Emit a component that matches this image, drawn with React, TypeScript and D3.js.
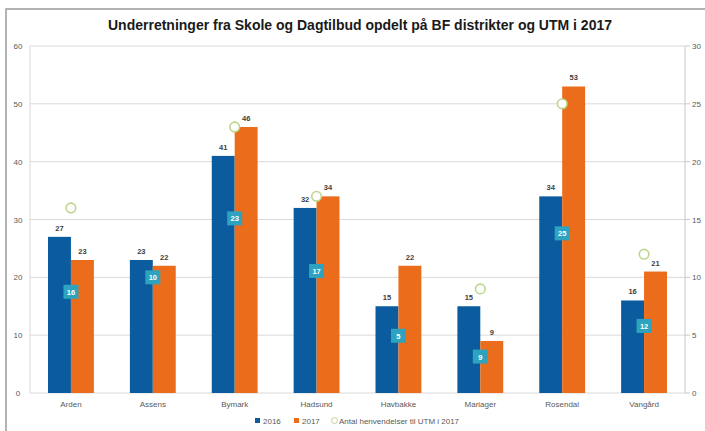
import React from "react";
import * as d3 from "d3";

const categories = ["Arden", "Assens", "Bymark", "Hadsund", "Havbakke", "Mariager", "Rosendal", "Vangård"];
const values2016 = [27, 23, 41, 32, 15, 15, 34, 16];
const values2017 = [23, 22, 46, 34, 22, 9, 53, 21];
const utm2017 = [16, 10, 23, 17, 5, 9, 25, 12];
// vertical position (primary-axis units) of the UTM data labels
const utmLabelPos = [17.5, 20, 30.2, 21.1, 9.9, 6.3, 27.6, 11.6];
const leftTicks = [0, 10, 20, 30, 40, 50, 60];
const rightTicks = [0, 5, 10, 15, 20, 25, 30];
const seriesNames = ["2016", "2017", "Antal henvendelser til UTM i 2017"];

const W = 705;
const H = 431;
const m = { left: 30, right: 20, top: 46, bottom: 38 };
const BLUE = "#0A5C9E";
const ORANGE = "#EB6C1B";
const TEAL = "#2EA3BF";
const GREEN = "#BBD68C";

export default function App() {
  const x0 = d3.scaleBand().domain(categories).range([m.left, W - m.right]).paddingInner(0.44).paddingOuter(0.22);
  const x1 = d3.scaleBand().domain(["2016", "2017"]).range([0, x0.bandwidth()]);
  const y = d3.scaleLinear().domain([0, 60]).range([H - m.bottom, m.top]);
  const y2 = d3.scaleLinear().domain([0, 30]).range([H - m.bottom, m.top]);
  const plotR = W - m.right;
  const plotB = H - m.bottom;
  const font = "Liberation Sans, Arial, sans-serif";
  const center = (c: string) => (x0(c) as number) + x0.bandwidth() / 2;

  return (
    <svg width={W} height={H} style={{ position: "absolute", left: 0, top: 0 }} fontFamily={font}>
      <rect x={0} y={0} width={W} height={H} fill="#fff" />
      <rect x={6} y={9} width={W + 10} height={H + 10} fill="none" stroke="#9a9a9a" strokeWidth={1.5} />
      <text x={360} y={30} textAnchor="middle" fontSize={14} fontWeight="bold" fill="#1a1a1a" textLength={504} lengthAdjust="spacingAndGlyphs">
        Underretninger fra Skole og Dagtilbud opdelt på BF distrikter og UTM i 2017
      </text>
      {leftTicks.map((t) => (
        <g key={"l" + t}>
          <line x1={m.left} x2={plotR} y1={y(t)} y2={y(t)} stroke="#d9d9d9" strokeWidth={1} />
          <text x={18} y={y(t) + 3} textAnchor="middle" fontSize={8} fill="#595959">{t}</text>
        </g>
      ))}
      <line x1={m.left} x2={m.left} y1={m.top} y2={plotB} stroke="#d9d9d9" />
      <line x1={plotR} x2={plotR} y1={m.top} y2={plotB} stroke="#c8c8c8" />
      {rightTicks.map((t) => (
        <g key={"r" + t}>
          <line x1={plotR} x2={plotR + 5} y1={y2(t)} y2={y2(t)} stroke="#c8c8c8" />
          <text x={692} y={y2(t) + 3} textAnchor="start" fontSize={8} fill="#595959">{t}</text>
        </g>
      ))}
      {categories.map((c, i) => {
        const gx = x0(c) as number;
        const bx1 = gx + (x1("2016") as number);
        const bx2 = gx + (x1("2017") as number);
        const bw = x1.bandwidth();
        const cx = center(c);
        return (
          <g key={c}>
            <rect x={bx1} y={y(values2016[i])} width={bw} height={plotB - y(values2016[i])} fill={BLUE} />
            <rect x={bx2} y={y(values2017[i])} width={bw} height={plotB - y(values2017[i])} fill={ORANGE} />
            <text x={bx1 + bw / 2} y={y(values2016[i]) - 6} textAnchor="middle" fontSize={7.5} fontWeight="bold" fill="#404040">{values2016[i]}</text>
            <text x={bx2 + bw / 2} y={y(values2017[i]) - 6} textAnchor="middle" fontSize={7.5} fontWeight="bold" fill="#404040">{values2017[i]}</text>
            <circle cx={cx} cy={y2(utm2017[i])} r={4.8} fill="#fff" stroke={GREEN} strokeWidth={1.6} />
            <rect x={cx - 7.5} y={y(utmLabelPos[i]) - 7} width={15} height={14} fill={TEAL} />
            <text x={cx} y={y(utmLabelPos[i]) + 3} textAnchor="middle" fontSize={7.5} fontWeight="bold" fill="#fff">{utm2017[i]}</text>
            <text x={cx} y={plotB + 14} textAnchor="middle" fontSize={8} fill="#595959">{c}</text>
          </g>
        );
      })}
      <g>
        <rect x={255} y={418} width={5} height={5} fill={BLUE} />
        <text x={263} y={423.5} fontSize={8} fill="#595959">{seriesNames[0]}</text>
        <rect x={294} y={418} width={5} height={5} fill={ORANGE} />
        <text x={302} y={423.5} fontSize={8} fill="#595959">{seriesNames[1]}</text>
        <circle cx={334.5} cy={420.5} r={3} fill="#fff" stroke={GREEN} strokeWidth={1} />
        <text x={339} y={423.5} fontSize={8} fill="#595959">{seriesNames[2]}</text>
      </g>
    </svg>
  );
}
